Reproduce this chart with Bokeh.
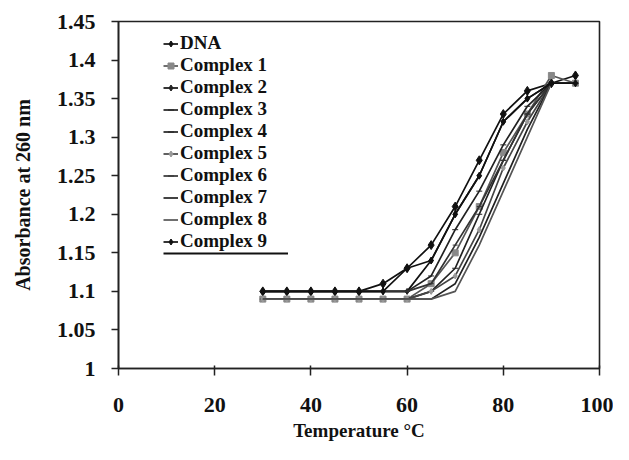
from bokeh.plotting import figure
from bokeh.models import Legend, LegendItem, FixedTicker, ColumnDataSource
from bokeh.embed import file_html
from bokeh.resources import INLINE

temps = [30, 35, 40, 45, 50, 55, 60, 65, 70, 75, 80, 85, 90, 95]

dna       = [1.10, 1.10, 1.10, 1.10, 1.10, 1.11, 1.13, 1.16, 1.21, 1.27, 1.33, 1.36, 1.37, 1.38]
complex_1 = [1.09, 1.09, 1.09, 1.09, 1.09, 1.09, 1.09, 1.11, 1.15, 1.21, 1.28, 1.33, 1.38, 1.37]
complex_2 = [1.10, 1.10, 1.10, 1.10, 1.10, 1.10, 1.10, 1.14, 1.20, 1.25, 1.32, 1.35, 1.37, 1.37]
complex_3 = [1.09, 1.09, 1.09, 1.09, 1.09, 1.09, 1.09, 1.10, 1.13, 1.20, 1.27, 1.33, 1.37, 1.37]
complex_4 = [1.10, 1.10, 1.10, 1.10, 1.10, 1.10, 1.10, 1.12, 1.18, 1.23, 1.29, 1.34, 1.37, 1.37]
complex_5 = [1.09, 1.09, 1.09, 1.09, 1.09, 1.09, 1.09, 1.10, 1.12, 1.18, 1.26, 1.32, 1.37, 1.37]
complex_6 = [1.10, 1.10, 1.10, 1.10, 1.10, 1.10, 1.10, 1.11, 1.16, 1.21, 1.27, 1.33, 1.37, 1.37]
complex_7 = [1.09, 1.09, 1.09, 1.09, 1.09, 1.09, 1.09, 1.09, 1.11, 1.17, 1.24, 1.31, 1.37, 1.37]
complex_8 = [1.09, 1.09, 1.09, 1.09, 1.09, 1.09, 1.09, 1.09, 1.10, 1.16, 1.23, 1.30, 1.37, 1.37]
complex_9 = [1.10, 1.10, 1.10, 1.10, 1.10, 1.10, 1.13, 1.14, 1.20, 1.25, 1.32, 1.35, 1.37, 1.37]

series_names = ["DNA", "Complex 1", "Complex 2", "Complex 3", "Complex 4",
                "Complex 5", "Complex 6", "Complex 7", "Complex 8", "Complex 9"]
series_values = [dna, complex_1, complex_2, complex_3, complex_4,
                 complex_5, complex_6, complex_7, complex_8, complex_9]

x_ticks = [0, 20, 40, 60, 80, 100]
y_ticks = [1.0, 1.05, 1.1, 1.15, 1.2, 1.25, 1.3, 1.35, 1.4, 1.45]
y_tick_labels = ["1", "1.05", "1.1", "1.15", "1.2", "1.25", "1.3", "1.35", "1.4", "1.45"]

styles = [
    dict(color="#111111", marker="diamond", size=9, mcolor="#111111"),
    dict(color="#555555", marker="square", size=6, mcolor="#888888"),
    dict(color="#111111", marker="diamond", size=6, mcolor="#222222"),
    dict(color="#222222", marker="dash", size=6, mcolor="#222222"),
    dict(color="#222222", marker="dash", size=6, mcolor="#222222"),
    dict(color="#444444", marker="diamond", size=6, mcolor="#999999"),
    dict(color="#333333", marker="dash", size=5, mcolor="#333333"),
    dict(color="#222222", marker=None, size=0, mcolor="#222222"),
    dict(color="#555555", marker=None, size=0, mcolor="#555555"),
    dict(color="#111111", marker="diamond", size=7, mcolor="#111111"),
]

FONT = "Liberation Serif"

p = figure(width=613, height=444, output_backend="svg", toolbar_location=None,
           x_range=(0, 100), y_range=(1.0, 1.45),
           min_border_left=118, min_border_right=14, min_border_top=21, min_border_bottom=76)

p.xgrid.visible = False
p.ygrid.visible = False
p.outline_line_color = "#222222"
p.outline_line_width = 1.6
p.background_fill_color = "white"
p.border_fill_color = "white"

items = []
for name, vals, st in zip(series_names, series_values, styles):
    src = ColumnDataSource(dict(x=temps, y=vals))
    rs = [p.line("x", "y", source=src, line_color=st["color"], line_width=1.7)]
    if st["marker"]:
        rs.append(p.scatter("x", "y", source=src, marker=st["marker"], size=st["size"],
                            fill_color=st["mcolor"], line_color=st["mcolor"]))
    items.append(LegendItem(label=name, renderers=rs))

legend = Legend(items=items, location=(45, 116), orientation="vertical",
                label_text_font=FONT, label_text_font_style="bold",
                label_text_font_size="19px", label_text_color="#111111",
                label_height=21, glyph_height=21, glyph_width=15, spacing=0,
                label_standoff=2, padding=0, margin=0,
                border_line_color=None, background_fill_alpha=0)
p.add_layout(legend)

# underline drawn below the legend entries
nan_src = ColumnDataSource(dict(x=[float("nan")], y=[float("nan")]))
ul = p.line("x", "y", source=nan_src, line_color="#111111", line_width=2)
legend2 = Legend(items=[LegendItem(label=" ", renderers=[ul])], location=(45, 113),
                 glyph_width=125, glyph_height=4, label_text_font_size="2px",
                 label_height=4, padding=0, margin=0, spacing=0, label_standoff=0,
                 border_line_color=None, background_fill_alpha=0)
p.add_layout(legend2)

for ax in (p.xaxis[0], p.yaxis[0]):
    ax.axis_line_color = "#222222"
    ax.axis_line_width = 1.6
    ax.major_tick_line_color = "#222222"
    ax.major_tick_line_width = 1.5
    ax.minor_tick_line_color = None
    ax.major_label_text_font = FONT
    ax.major_label_text_font_style = "bold"
    ax.major_label_text_font_size = "22px"
    ax.major_label_text_color = "#111111"
    ax.axis_label_text_font = FONT
    ax.axis_label_text_font_style = "bold"
    ax.axis_label_text_color = "#111111"

p.xaxis.axis_label_text_font_size = "19px"
p.yaxis.axis_label_text_font_size = "20px"
p.xaxis.ticker = FixedTicker(ticks=x_ticks)
p.yaxis.ticker = FixedTicker(ticks=y_ticks)
p.yaxis.major_label_overrides = {t: l for t, l in zip(y_ticks, y_tick_labels)}
p.xaxis.major_tick_in = 3
p.xaxis.major_tick_out = 7
p.yaxis.major_tick_in = 0
p.yaxis.major_tick_out = 7
p.xaxis.major_label_standoff = 22
p.yaxis.major_label_standoff = 16
p.xaxis.axis_label = "Temperature °C"
p.yaxis.axis_label = "Absorbance at 260 nm"
p.xaxis.axis_label_standoff = 5
p.yaxis.axis_label_standoff = 20

open("out.html", "w").write(file_html(p, INLINE))
